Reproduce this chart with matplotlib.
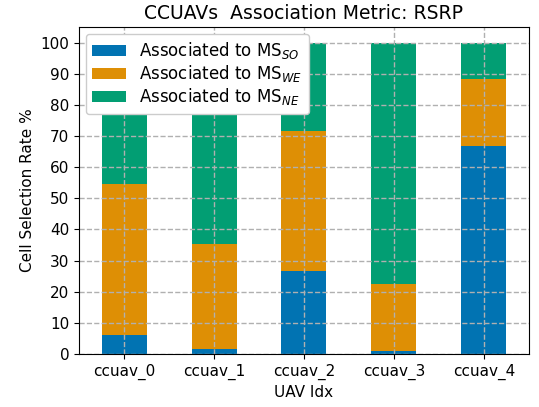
import matplotlib
matplotlib.use('Agg')
import matplotlib.pyplot as plt
import numpy as np

# values (percent)
uavs = ['ccuav_0', 'ccuav_1', 'ccuav_2', 'ccuav_3', 'ccuav_4']
ms_so = [6.1, 1.6, 26.7, 1.0, 66.9]
ms_we = [48.6, 33.8, 45.0, 21.5, 21.5]
ms_ne = [45.3, 64.6, 28.3, 77.5, 11.6]

labels = [r'Associated to MS$_{SO}$', r'Associated to MS$_{WE}$', r'Associated to MS$_{NE}$']
colors = ['#0173b2', '#de8f05', '#029e73']

plt.rcParams['font.size'] = 11

fig = plt.figure(figsize=(5.39, 4.07), dpi=100)
ax = fig.add_axes([0.1466, 0.1302, 0.8348, 0.8035])

x = np.arange(len(uavs))
bottom = np.zeros(len(uavs))
for vals, lab, col in zip([ms_so, ms_we, ms_ne], labels, colors):
    ax.bar(x, vals, width=0.5, bottom=bottom, color=col, label=lab)
    bottom += np.array(vals)

ax.set_xlim(-0.5, 4.5)
ax.set_ylim(0, 105)
ax.set_yticks(range(0, 101, 10))
ax.set_xticks(x)
ax.set_xticklabels(uavs)
ax.grid(True, linestyle='--', color='#b0b0b0', linewidth=1.0)

ax.set_title('CCUAVs  Association Metric: RSRP', fontsize=13.5)
ax.set_xlabel('UAV Idx')
ax.set_ylabel('Cell Selection Rate %')
ax.legend(loc='upper left', fontsize=12, framealpha=1.0, labelspacing=0.12,
          borderaxespad=0.4)

plt.savefig('out.png', dpi=100)
